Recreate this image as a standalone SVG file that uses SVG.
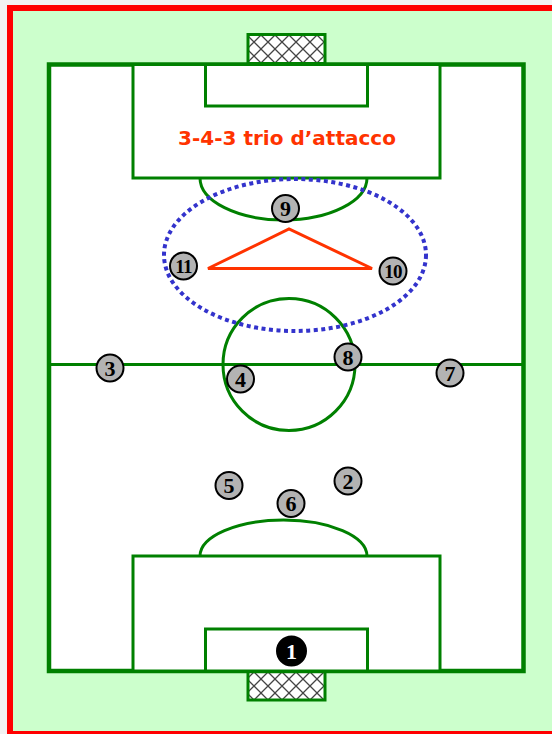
<svg xmlns="http://www.w3.org/2000/svg" width="552" height="734" viewBox="0 0 552 734">
  <style>
    .line { fill: none; stroke: #008000; stroke-width: 3; }
    .field { fill: #ffffff; stroke: #008000; stroke-width: 4.5; }
    .box { fill: #ffffff; stroke: #008000; stroke-width: 3; }
    .net { fill: url(#netPattern); stroke: #008000; stroke-width: 3; }
    .player circle { fill: #b3b3b3; stroke: #000000; stroke-width: 2; }
    .player text { font-family: "Liberation Serif", "Times New Roman", serif; font-weight: bold; font-size: 22px; fill: #000000; text-anchor: middle; }
    .player text.two { font-size: 19px; letter-spacing: -0.8px; }
    .gk circle { fill: #000000; }
    .gk text { fill: #ffffff; }
    .title { font-family: "DejaVu Sans", Verdana, sans-serif; font-weight: bold; font-size: 20px; fill: #ff3300; text-anchor: middle; }
  </style>
  <defs>
    <pattern id="netPattern" patternUnits="userSpaceOnUse" x="247" y="35" width="14" height="14">
      <rect width="14" height="14" fill="#ffffff"/>
      <path d="M0,0 L14,14 M14,0 L0,14" stroke="#444444" stroke-width="1.3" fill="none"/>
    </pattern>
  </defs>

  <rect x="0" y="0" width="552" height="734" fill="#f2f2f2"/>
  <rect x="10" y="8" width="542" height="726" fill="#ccffcc"/>
  <path d="M10,740 V8 H552" fill="none" stroke="#ff0000" stroke-width="6"/>
  <line x1="7" y1="733" x2="552" y2="733" stroke="#ff0000" stroke-width="4"/>

  <g id="pitch">
    <rect class="net" x="248" y="34.5" width="77" height="29"/>
    <rect class="net" x="248" y="671" width="77" height="29"/>
    <rect class="field" x="49" y="64.5" width="474.5" height="606.5"/>
    <rect class="box" x="133" y="64.5" width="307" height="113.5"/>
    <rect class="box" x="205.5" y="64.5" width="162" height="41.5"/>
    <path class="line" d="M200,178 A83.5,42 0 0 0 367,178"/>
    <line class="line" x1="49" y1="364.5" x2="523.5" y2="364.5"/>
    <circle class="line" cx="289" cy="364.5" r="66"/>
    <rect class="box" x="133" y="556" width="307" height="115"/>
    <rect class="box" x="205.5" y="629" width="162" height="42"/>
    <path class="line" d="M200,556 A83.5,36 0 0 1 367,556"/>
  </g>

  <g id="title">
    <text class="title" x="287" y="144.5">3-4-3 trio d’attacco</text>
  </g>

  <g id="connectors">
    <ellipse cx="295" cy="255" rx="131" ry="76" fill="none" stroke="#3333cc" stroke-width="4" stroke-dasharray="4 3.5"/>
    <polygon points="208,268.5 289,229 372,268.5" fill="none" stroke="#ff3300" stroke-width="3"/>
  </g>

  <g id="p9" class="player"><circle cx="285.5" cy="208.5" r="13.5"/><text x="285.5" y="216">9</text></g>
  <g id="p11" class="player"><circle cx="183.5" cy="266" r="13.5"/><text class="two" x="183.5" y="272.5">11</text></g>
  <g id="p10" class="player"><circle cx="393" cy="271" r="13.5"/><text class="two" x="393" y="277.5">10</text></g>
  <g id="p3" class="player"><circle cx="110" cy="368" r="13.5"/><text x="110" y="375.5">3</text></g>
  <g id="p4" class="player"><circle cx="240.5" cy="379" r="13.5"/><text x="240.5" y="386.5">4</text></g>
  <g id="p8" class="player"><circle cx="348" cy="357" r="13.5"/><text x="348" y="364.5">8</text></g>
  <g id="p7" class="player"><circle cx="450" cy="373" r="13.5"/><text x="450" y="380.5">7</text></g>
  <g id="p5" class="player"><circle cx="229" cy="485.5" r="13.5"/><text x="229" y="493">5</text></g>
  <g id="p6" class="player"><circle cx="291" cy="503.5" r="13.5"/><text x="291" y="511">6</text></g>
  <g id="p2" class="player"><circle cx="348" cy="481" r="13.5"/><text x="348" y="488.5">2</text></g>
  <g id="p1" class="player gk"><circle cx="291.5" cy="651" r="14.5"/><text x="291.5" y="658.5">1</text></g>
</svg>
